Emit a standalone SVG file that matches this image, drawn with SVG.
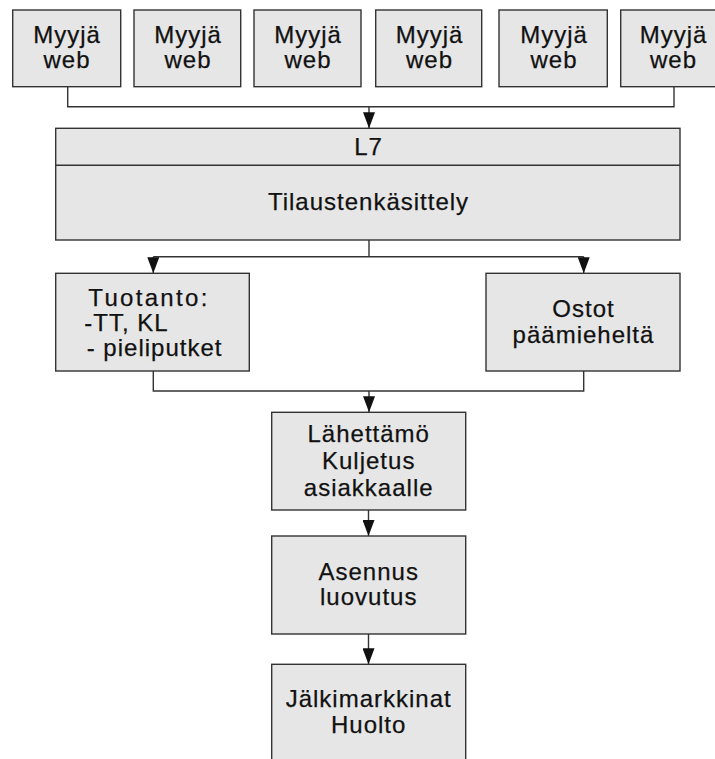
<svg xmlns="http://www.w3.org/2000/svg" width="715" height="759" viewBox="0 0 715 759">
<style>
  .box { fill: #e6e6e6; stroke: #333333; stroke-width: 1.4; }
  .ln { fill: none; stroke: #333333; stroke-width: 1.4; }
  .t { font-family: "Liberation Sans", Arial, sans-serif; font-size: 24px; letter-spacing: 1px; fill: #111111; stroke: #111111; stroke-width: 0.25; text-anchor: middle; }
  .ts { text-anchor: start; }
</style>
<defs>
  <marker id="arr" markerUnits="userSpaceOnUse" markerWidth="17" markerHeight="12" refX="16" refY="6" orient="auto" viewBox="0 0 17 12">
    <path d="M0,0 L16,6 L0,12 z" fill="#111111"/>
  </marker>
</defs>
<rect width="715" height="759" fill="#ffffff"/>

<g id="connectors">
  <polyline class="ln" points="67.7,86.7 67.7,106.7 674,106.7 674,86.7"/>
  <line class="ln" x1="369" y1="106.7" x2="369" y2="128.3" marker-end="url(#arr)"/>
  <line class="ln" x1="369" y1="240" x2="369" y2="256.7"/>
  <line class="ln" x1="153.3" y1="256.7" x2="583.7" y2="256.7"/>
  <line class="ln" x1="153.3" y1="256.7" x2="153.3" y2="273.3" marker-end="url(#arr)"/>
  <line class="ln" x1="583.7" y1="256.7" x2="583.7" y2="273.3" marker-end="url(#arr)"/>
  <polyline class="ln" points="153.3,371 153.3,391 583.7,391 583.7,371"/>
  <line class="ln" x1="369" y1="391" x2="369" y2="412.3" marker-end="url(#arr)"/>
  <line class="ln" x1="368.5" y1="510" x2="368.5" y2="536" marker-end="url(#arr)"/>
  <line class="ln" x1="368.5" y1="634" x2="368.5" y2="664.3" marker-end="url(#arr)"/>
</g>

<g id="myyja1">
  <rect class="box" x="12.7" y="10" width="108" height="76.7"/>
  <text class="t" x="67" y="42.7">Myyjä</text>
  <text class="t" x="67" y="68.3">web</text>
</g>
<g id="myyja2">
  <rect class="box" x="134" y="10" width="106.7" height="76.7"/>
  <text class="t" x="188" y="42.7">Myyjä</text>
  <text class="t" x="188" y="68.3">web</text>
</g>
<g id="myyja3">
  <rect class="box" x="254" y="10" width="107" height="76.7"/>
  <text class="t" x="308" y="42.7">Myyjä</text>
  <text class="t" x="308" y="68.3">web</text>
</g>
<g id="myyja4">
  <rect class="box" x="375.7" y="10" width="106" height="76.7"/>
  <text class="t" x="429.5" y="42.7">Myyjä</text>
  <text class="t" x="429.5" y="68.3">web</text>
</g>
<g id="myyja5">
  <rect class="box" x="499" y="10" width="108.3" height="76.7"/>
  <text class="t" x="554" y="42.7">Myyjä</text>
  <text class="t" x="554" y="68.3">web</text>
</g>
<g id="myyja6">
  <rect class="box" x="620.7" y="10" width="107" height="76.7"/>
  <text class="t" x="673.5" y="42.7">Myyjä</text>
  <text class="t" x="673.5" y="68.3">web</text>
</g>

<g id="l7">
  <rect class="box" x="55.7" y="128.3" width="624.3" height="111.7"/>
  <line class="ln" x1="55.7" y1="165.3" x2="680" y2="165.3"/>
  <text class="t" x="368.5" y="155">L7</text>
  <text class="t" x="368.5" y="210">Tilaustenkäsittely</text>
</g>

<g id="tuotanto">
  <rect class="box" x="55.7" y="273.3" width="193.6" height="97.7"/>
  <text class="t ts" x="88.3" y="305.5" textLength="120" lengthAdjust="spacing">Tuotanto:</text>
  <text class="t ts" x="84.3" y="330.5">-TT, KL</text>
  <text class="t ts" x="86.7" y="355.5">- pieliputket</text>
</g>

<g id="ostot">
  <rect class="box" x="486" y="273.3" width="194" height="97.7"/>
  <text class="t" x="583.5" y="316.7">Ostot</text>
  <text class="t" x="583.5" y="343">päämieheltä</text>
</g>

<g id="lahettamo">
  <rect class="box" x="271.7" y="412.3" width="194" height="97.7"/>
  <text class="t" x="368.7" y="441.7">Lähettämö</text>
  <text class="t" x="368.7" y="468.5">Kuljetus</text>
  <text class="t" x="368.7" y="495.5">asiakkaalle</text>
</g>

<g id="asennus">
  <rect class="box" x="271.7" y="536" width="194" height="98"/>
  <text class="t" x="368.7" y="579.5">Asennus</text>
  <text class="t" x="368.7" y="605">luovutus</text>
</g>

<g id="jalkimarkkinat">
  <rect class="box" x="271.7" y="664.3" width="194" height="110"/>
  <text class="t" x="368.7" y="707">Jälkimarkkinat</text>
  <text class="t" x="368.7" y="733">Huolto</text>
</g>
</svg>
